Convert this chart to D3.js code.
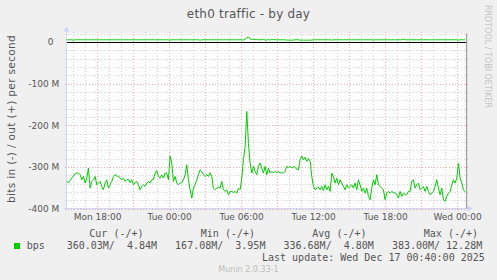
<!DOCTYPE html>
<html lang="en">
<head>
<meta charset="UTF-8">
<title>eth0 traffic - by day</title>
<style>
  body { margin: 0; background: #f0f0f0; }
  svg { display: block; font-family: "DejaVu Sans", sans-serif; }
  .mono { font-family: "DejaVu Sans Mono", monospace; font-size: 10px; fill: #555; white-space: pre; }
</style>
<script src="https://cdn.jsdelivr.net/npm/d3@7"></script>
</head>
<body>
<script>
// one sample every 500 s, the last one at the "Last update" time
const lastUpdate = new Date(2025, 11, 17, 0, 40);
const stepSec = 500;

// bits in (negative), in M
const bpsIn = [
  -335,-339,-333,-327,-322,-317,-315,-315,-319,-331,-323,-339,-327,-303,-351,-335,-331,-323,-343,-339,
  -335,-347,-355,-339,-331,-351,-343,-335,-323,-319,-322,-323,-327,-331,-327,-335,-331,-330,-338,-331,
  -343,-338,-335,-343,-355,-347,-343,-347,-339,-335,-339,-331,-330,-315,-309,-323,-327,-319,-327,-315,
  -315,-331,-274,-291,-335,-323,-339,-343,-339,-338,-331,-319,-295,-331,-355,-375,-351,-343,-331,-319,
  -307,-311,-319,-323,-319,-323,-314,-323,-351,-355,-351,-349,-351,-335,-355,-359,-355,-367,-359,-359,
  -362,-359,-363,-351,-355,-327,-283,-252,-167,-244,-291,-315,-299,-311,-319,-299,-291,-303,-315,-299,
  -319,-303,-315,-311,-315,-311,-314,-311,-315,-314,-315,-311,-299,-301,-299,-303,-299,-301,-306,-307,
  -283,-274,-283,-277,-287,-280,-287,-323,-347,-355,-351,-349,-355,-347,-357,-343,-355,-347,-359,-315,
  -323,-339,-327,-343,-331,-339,-347,-355,-343,-351,-347,-343,-351,-339,-355,-331,-343,-359,-351,-363,
  -351,-371,-379,-351,-331,-343,-319,-343,-347,-351,-355,-379,-363,-359,-363,-359,-362,-363,-367,-375,
  -359,-371,-363,-367,-367,-359,-359,-335,-331,-351,-343,-339,-355,-351,-347,-359,-347,-359,-367,-363,
  -359,-347,-331,-351,-367,-351,-379,-383,-371,-363,-359,-343,-331,-339,-327,-291,-327,-339,-355,-360
];

// bits out (positive), in M
const bpsOut = [
  4.9,4.9,4.9,4.9,4.0,4.9,4.9,4.9,4.9,4.9,4.9,4.9,4.9,4.9,4.9,4.9,4.9,4.9,4.9,4.9,
  4.9,4.9,4.9,4.9,4.9,4.9,4.9,4.9,4.9,4.9,4.9,4.9,4.9,4.9,4.9,4.9,4.9,4.9,4.9,4.9,
  4.9,4.9,4.9,4.9,4.9,4.9,4.9,4.9,4.9,4.9,4.9,4.9,4.9,4.9,4.9,4.9,4.9,4.9,4.9,4.9,
  4.9,4.9,4.0,4.9,4.9,4.9,4.9,4.9,4.9,4.9,4.9,4.9,4.9,4.9,4.9,4.9,4.9,4.9,4.9,4.9,
  4.0,4.9,4.9,4.9,4.9,4.9,4.9,4.9,4.9,4.9,4.9,4.9,4.9,4.9,4.9,4.9,4.9,4.9,4.9,4.9,
  4.9,4.9,4.9,4.9,4.9,4.9,4.0,6.5,9.0,12.28,7.0,5.5,6.5,5.0,5.8,4.5,5.5,5.0,5.5,4.5,
  4.2,5.5,4.3,5.5,5.0,5.2,4.6,5.0,4.9,4.9,4.9,4.9,4.1,4.1,4.1,4.1,4.1,4.8,5.2,4.8,
  4.1,4.1,4.1,4.1,4.1,4.1,4.1,4.1,4.9,4.9,4.9,4.9,4.9,4.9,4.9,4.9,4.9,4.9,4.9,4.2,
  4.9,4.9,4.9,4.9,4.9,4.9,4.9,4.9,4.9,4.9,4.9,4.9,4.9,4.9,4.9,4.9,4.9,4.9,4.9,4.9,
  4.9,4.9,4.9,4.9,4.2,4.9,4.9,4.9,4.9,4.9,4.9,4.9,4.9,4.9,4.9,4.9,4.9,4.9,4.9,4.9,
  4.9,4.9,6.5,4.9,4.9,4.9,4.9,4.9,4.9,4.9,4.9,4.9,4.9,4.9,4.9,4.9,4.9,4.9,4.9,4.9,
  4.9,4.9,4.9,4.9,4.9,4.9,4.9,4.9,4.9,4.9,4.9,4.9,4.9,4.9,4.9,4.0,4.9,4.9,4.9,4.84
];

const yLabelTicks = [0, -100, -200, -300, -400];
const xLabelTimes = [
  new Date(2025, 11, 15, 18), new Date(2025, 11, 16, 0), new Date(2025, 11, 16, 6),
  new Date(2025, 11, 16, 12), new Date(2025, 11, 16, 18), new Date(2025, 11, 17, 0)
];

const legendHeads = ["Cur (-/+)", "Min (-/+)", "Avg (-/+)", "Max (-/+)"];
const legendIn = ["360.03M", "167.08M", "336.68M", "383.00M"];
const legendOut = ["4.84M", "3.95M", "4.80M", "12.28M"];

const W = 497, H = 280;
const pLeft = 66.5, pRight = 466.5, pTop = 33.5, pBottom = 208.5;

const svg = d3.select("body").append("svg").attr("width", W).attr("height", H);

const x = d3.scaleTime()
  .domain([new Date(2025, 11, 15, 15, 27), new Date(2025, 11, 17, 0, 47)])
  .range([pLeft, pRight]);
const y = d3.scaleLinear().domain([-400, 20]).range([pBottom, pTop]);

const timeOf = i => new Date(lastUpdate.getTime() - (bpsIn.length - 1 - i) * stepSec * 1000);

// canvas
svg.append("rect").attr("x", pLeft).attr("y", pTop)
  .attr("width", pRight - pLeft).attr("height", pBottom - pTop).attr("fill", "#fff");

// grid
const grid = svg.append("g").attr("shape-rendering", "crispEdges").attr("stroke-dasharray", "1,2");
const hours = d3.timeHour.range(x.domain()[0], x.domain()[1]);
grid.selectAll(".vg").data(hours).join("line")
  .attr("x1", d => Math.round(x(d)) + 0.5).attr("x2", d => Math.round(x(d)) + 0.5)
  .attr("y1", pTop - 2).attr("y2", pBottom + 2)
  .attr("stroke", d => d.getHours() % 3 === 0 ? "#f4aaaa" : "#d2d2d2");
grid.selectAll(".hg").data(d3.range(-400, 21, 20)).join("line")
  .attr("y1", d => Math.round(y(d)) + 0.5).attr("y2", d => Math.round(y(d)) + 0.5)
  .attr("x1", pLeft - 2).attr("x2", pRight + 2)
  .attr("stroke", d => d % 100 === 0 ? "#f4aaaa" : "#d2d2d2");

// zero rule
svg.append("line").attr("shape-rendering", "crispEdges")
  .attr("x1", pLeft).attr("x2", pRight)
  .attr("y1", Math.round(y(0)) + 0.5).attr("y2", Math.round(y(0)) + 0.5)
  .attr("stroke", "#000");

// axes lines + arrows
const axisCol = "#cfd6f8";
svg.append("line").attr("x1", pLeft - 2).attr("x2", pRight + 3).attr("y1", pBottom).attr("y2", pBottom)
  .attr("stroke", axisCol);
svg.append("path").attr("d", `M${pRight + 1},${pBottom - 3}L${pRight + 6},${pBottom}L${pRight + 1},${pBottom + 3}Z`)
  .attr("fill", axisCol);
svg.append("line").attr("x1", pLeft).attr("x2", pLeft).attr("y1", pBottom + 2).attr("y2", pTop - 4)
  .attr("stroke", axisCol);
svg.append("path").attr("d", `M${pLeft - 3},${pTop - 2}L${pLeft},${pTop - 7}L${pLeft + 3},${pTop - 2}Z`)
  .attr("fill", axisCol);
svg.append("line").attr("x1", pRight).attr("x2", pRight).attr("y1", pTop).attr("y2", pBottom)
  .attr("stroke", "#a0a0a0").attr("stroke-width", 1.3);

// data
const line = d3.line().x((d, i) => x(timeOf(i))).y(d => y(d));
svg.append("path").datum(bpsIn).attr("d", line)
  .attr("fill", "none").attr("stroke", "#00cc00").attr("stroke-width", 1);
svg.append("path").datum(bpsOut).attr("d", line)
  .attr("fill", "none").attr("stroke", "#00cc00").attr("stroke-width", 1);

// y labels
svg.append("g").attr("transform", `translate(${pLeft},0)`)
  .call(d3.axisLeft(y).tickValues(yLabelTicks).tickSize(0)
    .tickFormat(d => d === 0 ? "0  " : d + " M"))
  .call(g => g.select(".domain").remove())
  .attr("font-family", "DejaVu Sans").attr("font-size", 9)
  .selectAll("text").attr("x", -7.2).attr("dy", "0.33em").attr("fill", "#555")
  .style("white-space", "pre");

// x labels
svg.append("g").attr("transform", `translate(0,${pBottom})`)
  .call(d3.axisBottom(x).tickValues(xLabelTimes).tickSize(0).tickFormat(d3.timeFormat("%a %H:%M")))
  .call(g => g.select(".domain").remove())
  .attr("font-family", "DejaVu Sans").attr("font-size", 9)
  .selectAll("text").attr("y", 11.7).attr("dy", 0).attr("fill", "#555");

// title
svg.append("text").attr("x", W / 2).attr("y", 18).attr("text-anchor", "middle")
  .attr("font-size", 12).attr("letter-spacing", 0.2).attr("fill", "#555")
  .text("eth0 traffic - by day");

// vertical label
svg.append("text").attr("transform", `translate(14.5,${(pTop + pBottom) / 2 - 2}) rotate(-90)`)
  .attr("text-anchor", "middle").attr("font-size", 10.5).attr("letter-spacing", 0.36)
  .attr("fill", "#555").text("bits in (-) / out (+) per second");

// watermark
svg.append("text").attr("transform", "translate(485,5) rotate(90)")
  .attr("font-size", 8).attr("fill", "#c4c4c4").text("RRDTOOL / TOBI OETIKER");

// legend
const lg = svg.append("g");
lg.selectAll(".head").data(legendHeads).join("text").attr("class", "mono")
  .attr("x", (d, i) => 89.3 + i * 111.5).attr("y", 236.7).text(d => d);
lg.append("rect").attr("x", 14).attr("y", 243).attr("width", 6).attr("height", 6).attr("fill", "#00cc00");
lg.append("text").attr("class", "mono").attr("x", 26.7).attr("y", 249).text("bps");
lg.selectAll(".val").data(legendIn).join("text").attr("class", "mono")
  .attr("x", (d, i) => 66.7 + i * 108.4).attr("y", 249)
  .text((d, i) => d + "/" + legendOut[i].padStart(7));
lg.append("text").attr("class", "mono").attr("x", 262).attr("y", 261)
  .text("Last update: Wed Dec 17 00:40:00 2025");
lg.append("text").attr("x", W / 2).attr("y", 271.7).attr("text-anchor", "middle")
  .attr("font-size", 8).attr("fill", "#bdbdbd").text("Munin 2.0.33-1");
</script>
</body>
</html>
